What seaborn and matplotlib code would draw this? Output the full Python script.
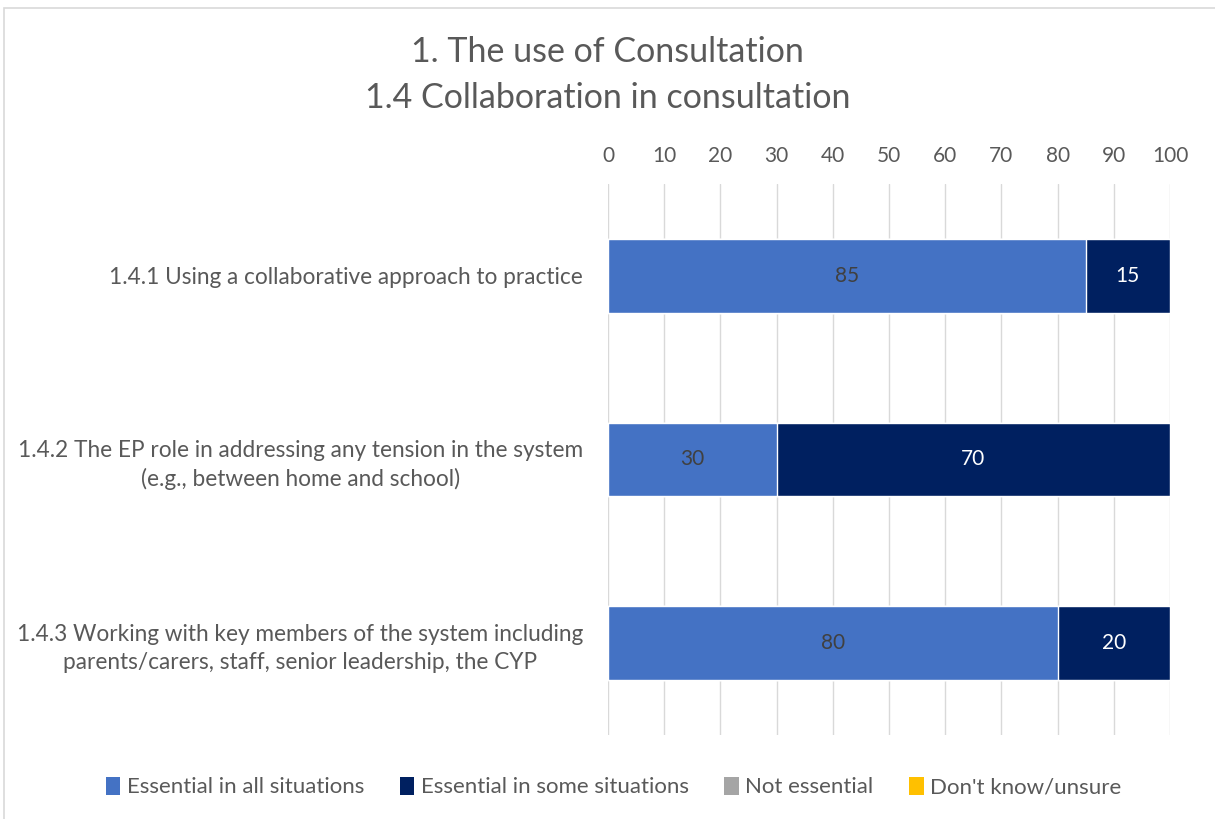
import matplotlib
matplotlib.use("Agg")
import matplotlib.pyplot as plt
from matplotlib.patches import Patch, Rectangle
import seaborn as sns
import pandas as pd

categories = [
    "1.4.1 Using a collaborative approach to practice",
    "1.4.2 The EP role in addressing any tension in the system\n(e.g., between home and school)",
    "1.4.3 Working with key members of the system including\nparents/carers, staff, senior leadership, the CYP",
]
essential_all = [85, 30, 80]
essential_some = [15, 70, 20]
not_essential = [0, 0, 0]
dont_know = [0, 0, 0]
series_names = ["Essential in all situations", "Essential in some situations",
                "Not essential", "Don't know/unsure"]
series_colors = ["#4472C4", "#002060", "#A5A5A5", "#FFC000"]
x_ticks = [0, 10, 20, 30, 40, 50, 60, 70, 80, 90, 100]

sns.set_theme(style="white")
plt.rcParams["font.family"] = ["Lato", "DejaVu Sans"]
text_color = "#595959"

df = pd.DataFrame({
    "item": categories,
    "all": essential_all,
    "some": essential_some,
    "not": not_essential,
    "dk": dont_know,
})
df["cum_some"] = df["all"] + df["some"]
df["cum_not"] = df["cum_some"] + df["not"]
df["cum_dk"] = df["cum_not"] + df["dk"]

fig = plt.figure(figsize=(12.15, 8.19), dpi=100)
ax = fig.add_axes([0.5004, 0.1026, 0.4626, 0.6727])

# stacked bars: draw cumulative totals back to front
for col, color in [("cum_dk", series_colors[3]), ("cum_not", series_colors[2]),
                   ("cum_some", series_colors[1]), ("all", series_colors[0])]:
    sns.barplot(data=df, x=col, y="item", color=color, orient="h",
                width=0.4, saturation=1, ax=ax, zorder=3)

# value labels in the middle of each segment
for i in range(len(categories)):
    a, s = essential_all[i], essential_some[i]
    if a > 0:
        ax.text(a / 2, i, f"{a}", ha="center", va="center", fontsize=15,
                color="#404040", zorder=5)
    if s > 0:
        ax.text(a + s / 2, i, f"{s}", ha="center", va="center", fontsize=15,
                color="white", zorder=5)

ax.set_xlim(0, 100)
ax.set_ylim(2.5, -0.5)
ax.set_xticks(x_ticks)
ax.xaxis.tick_top()
ax.tick_params(axis="x", length=0, labelsize=15, labelcolor=text_color, pad=13)
ax.tick_params(axis="y", length=0, labelsize=16.3, labelcolor=text_color, pad=18)
for lab in ax.get_yticklabels():
    lab.set_multialignment("center")
    lab.set_linespacing(1.4)
ax.set_xlabel("")
ax.set_ylabel("")
ax.grid(axis="x", color="#D9D9D9", linewidth=1, zorder=0)
ax.set_axisbelow(True)
for sp in ax.spines.values():
    sp.set_visible(False)

fig.text(0.5, 0.937, "1. The use of Consultation", ha="center", va="center",
         fontsize=24.5, color=text_color)
fig.text(0.5, 0.880, "1.4 Collaboration in consultation", ha="center", va="center",
         fontsize=24.5, color=text_color)

handles = [Patch(facecolor=c, edgecolor="none") for c in series_colors]
fig.legend(handles, series_names, loc="center", bbox_to_anchor=(0.505, 0.039),
           ncol=4, frameon=False, fontsize=16, labelcolor=text_color,
           handlelength=0.65, handleheight=0.85, handletextpad=0.3, columnspacing=1.6)

# chart frame
fig.patches.append(Rectangle((0.003, -0.01), 1.1, 1.0, transform=fig.transFigure,
                             fill=False, edgecolor="#D9D9D9", linewidth=1.2))

fig.savefig("out.png", dpi=100)
